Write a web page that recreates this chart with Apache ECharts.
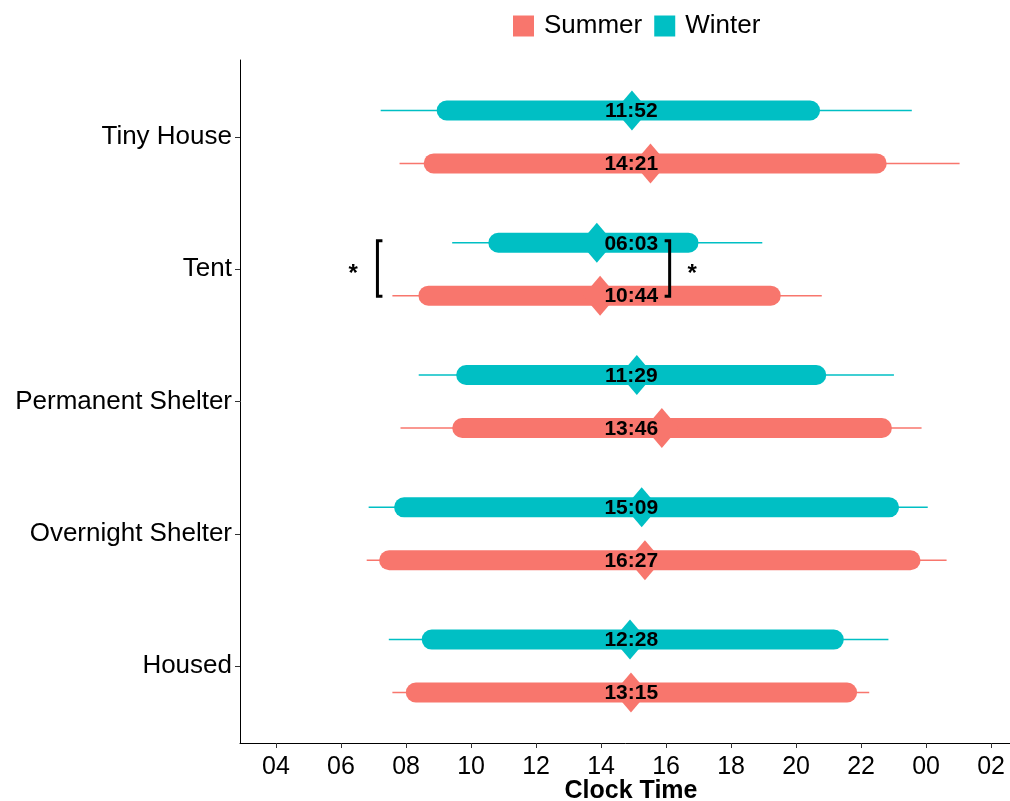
<!DOCTYPE html>
<html>
<head>
<meta charset="utf-8">
<script src="https://cdn.jsdelivr.net/npm/echarts@6/dist/echarts.min.js"></script>
<style>
  html, body { margin: 0; padding: 0; background: #fff; }
  #chart { width: 1010px; height: 801px; }
</style>
</head>
<body>
<div id="chart"></div>
<script>
// Groups, listed bottom to top
const categories = ['Housed', 'Overnight Shelter', 'Permanent Shelter', 'Tent', 'Tiny House'];

// Clock hours (values past 24 wrap into the next morning)
const summerLow  = [7.58, 6.79, 7.83, 7.58, 7.80];
const summerQ1   = [8.30, 7.48, 9.73, 8.69, 8.85];
const summerMid  = [14.92, 15.35, 15.87, 13.97, 15.52];
const summerQ3   = [21.57, 23.52, 22.64, 19.22, 22.48];
const summerHigh = [22.25, 24.63, 23.86, 20.79, 25.03];
const summerLabels = ['13:15', '16:27', '13:46', '10:44', '14:21'];

const winterLow  = [7.47, 6.85, 8.39, 9.42, 7.22];
const winterQ1   = [8.79, 7.94, 9.85, 10.84, 9.25];
const winterMid  = [14.89, 15.25, 15.10, 13.87, 14.95];
const winterQ3   = [21.16, 22.86, 20.62, 16.69, 20.43];
const winterHigh = [22.84, 24.05, 23.01, 18.96, 23.56];
const winterLabels = ['12:28', '15:09', '11:29', '06:03', '11:52'];

// Hour ticks
const xTicks = [4, 6, 8, 10, 12, 14, 16, 18, 20, 22, 24, 26];

// Significance markers on the Tent row
const sigCategory = 3;
const bracketHour = [7.12, 16.11];
const bracketDir  = [1, -1];
const starHour    = [6.37, 16.80];

const FONT = '"Liberation Sans", Arial, Helvetica, sans-serif';
const SUMMER = '#F8766D';
const WINTER = '#00BFC4';
const LABEL_HOUR = 14.93;
const ROW_OFFSET = 0.2;

function rows(low, q1, mid, q3, high, offset) {
  return categories.map((c, i) => [i + offset, low[i], q1[i], mid[i], q3[i], high[i]]);
}

function makeRender(color, labels) {
  return function (params, api) {
    const y = api.value(0);
    const lo = api.coord([api.value(1), y]);
    const a = api.coord([api.value(2), y]);
    const m = api.coord([api.value(3), y]);
    const b = api.coord([api.value(4), y]);
    const hi = api.coord([api.value(5), y]);
    const lab = api.coord([LABEL_HOUR, y]);
    const hw = 17, hh = 20;
    return {
      type: 'group',
      children: [
        { type: 'line', shape: { x1: lo[0], y1: lo[1], x2: hi[0], y2: hi[1] },
          style: { stroke: color, lineWidth: 1.6 } },
        { type: 'line', shape: { x1: a[0], y1: a[1], x2: b[0], y2: b[1] },
          style: { stroke: color, lineWidth: 20, lineCap: 'round' } },
        { type: 'polygon', shape: { points: [[m[0], m[1] - hh], [m[0] + hw, m[1]], [m[0], m[1] + hh], [m[0] - hw, m[1]]] },
          style: { fill: color } },
        { type: 'text', x: lab[0], y: lab[1] + 1,
          style: { text: labels[params.dataIndex], fill: '#000', font: 'bold 21px ' + FONT,
                   align: 'center', verticalAlign: 'middle' } }
      ]
    };
  };
}

function renderSig(params, api) {
  const i = params.dataIndex;
  const top = api.coord([bracketHour[i], sigCategory + ROW_OFFSET + 0.015]);
  const bot = api.coord([bracketHour[i], sigCategory - ROW_OFFSET - 0.005]);
  const star = api.coord([starHour[i], sigCategory]);
  const d = bracketDir[i] * 5;
  return {
    type: 'group',
    children: [
      { type: 'polyline', shape: { points: [[top[0] + d, top[1]], [top[0], top[1]], [bot[0], bot[1]], [bot[0] + d, bot[1]]] },
        style: { stroke: '#000', lineWidth: 3, fill: null } },
      { type: 'text', x: star[0], y: star[1] + 5,
        style: { text: '*', fill: '#000', font: 'bold 24px ' + FONT, align: 'center', verticalAlign: 'middle' } }
    ]
  };
}

const chart = echarts.init(document.getElementById('chart'), null, { renderer: 'canvas' });

chart.setOption({
  animation: false,
  backgroundColor: '#fff',
  textStyle: { fontFamily: FONT },
  legend: {
    data: [{ name: 'Summer', icon: 'rect' }, { name: 'Winter', icon: 'rect' }],
    left: 508, top: 8,
    itemWidth: 21, itemHeight: 21, itemGap: 12,
    textStyle: { fontSize: 26, color: '#000', fontFamily: FONT, padding: [0, 0, 0, 5] }
  },
  grid: { left: 240, right: -12, top: 60, bottom: 58, containLabel: false, outerBoundsMode: 'none' },
  xAxis: {
    type: 'value',
    min: 2.892, max: 26.95,
    name: 'Clock Time',
    nameLocation: 'middle',
    nameGap: 36,
    nameMoveOverlap: false,
    nameTextStyle: { fontSize: 25, fontWeight: 'bold', color: '#000', fontFamily: FONT },
    axisLine: { onZero: false, lineStyle: { color: '#000', width: 1 } },
    axisTick: { show: true, length: 5, customValues: xTicks, lineStyle: { color: '#333' } },
    axisLabel: {
      customValues: xTicks, fontSize: 25, color: '#000', margin: 12, fontFamily: FONT,
      formatter: v => String(Math.round(v) % 24).padStart(2, '0')
    },
    splitLine: { show: false }
  },
  yAxis: {
    type: 'value',
    min: -0.582, max: 4.582,
    axisLine: { onZero: false, lineStyle: { color: '#000', width: 1 } },
    axisTick: { show: true, length: 5, customValues: [0, 1, 2, 3, 4], lineStyle: { color: '#333' } },
    axisLabel: {
      customValues: [0, 1, 2, 3, 4], fontSize: 26, color: '#000', margin: 8, fontFamily: FONT,
      formatter: v => categories[Math.round(v)]
    },
    splitLine: { show: false }
  },
  series: [
    {
      name: 'Summer', type: 'custom',
      itemStyle: { color: SUMMER },
      renderItem: makeRender(SUMMER, summerLabels),
      encode: { x: [1, 2, 3, 4, 5], y: 0 },
      data: rows(summerLow, summerQ1, summerMid, summerQ3, summerHigh, -ROW_OFFSET),
      clip: false
    },
    {
      name: 'Winter', type: 'custom',
      itemStyle: { color: WINTER },
      renderItem: makeRender(WINTER, winterLabels),
      encode: { x: [1, 2, 3, 4, 5], y: 0 },
      data: rows(winterLow, winterQ1, winterMid, winterQ3, winterHigh, ROW_OFFSET),
      clip: false
    },
    {
      type: 'custom',
      renderItem: renderSig,
      encode: { x: 0, y: 1 },
      data: bracketHour.map((h, i) => [h, sigCategory]),
      clip: false,
      silent: true
    }
  ]
});
</script>
</body>
</html>
